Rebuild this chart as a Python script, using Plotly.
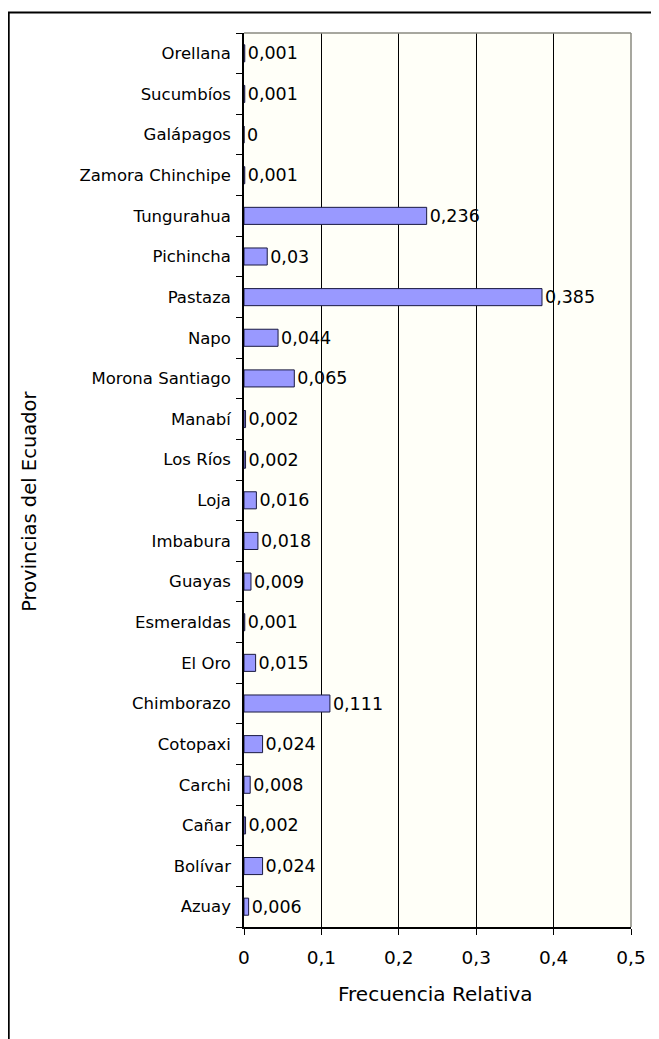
import plotly.graph_objects as go

# categories listed bottom to top, as drawn
provincias = [
    "Azuay", "Bolívar", "Cañar", "Carchi", "Cotopaxi", "Chimborazo", "El Oro",
    "Esmeraldas", "Guayas", "Imbabura", "Loja", "Los Ríos", "Manabí",
    "Morona Santiago", "Napo", "Pastaza", "Pichincha", "Tungurahua",
    "Zamora Chinchipe", "Galápagos", "Sucumbíos", "Orellana",
]
frecuencia = [
    0.006, 0.024, 0.002, 0.008, 0.024, 0.111, 0.015,
    0.001, 0.009, 0.018, 0.016, 0.002, 0.002,
    0.065, 0.044, 0.385, 0.03, 0.236,
    0.001, 0, 0.001, 0.001,
]
x_ticks = [0, 0.1, 0.2, 0.3, 0.4, 0.5]
x_ticktext = ["0", "0,1", "0,2", "0,3", "0,4", "0,5"]

labels = [("%g" % v).replace(".", ",") for v in frecuencia]

FONT = "DejaVu Sans, Verdana, sans-serif"

fig = go.Figure()
fig.add_trace(
    go.Bar(
        x=frecuencia,
        y=provincias,
        orientation="h",
        marker=dict(color="#9999ff", line=dict(color="#1a1a40", width=1)),
        text=labels,
        textposition="outside",
        constraintext="none",
        cliponaxis=False,
        textfont=dict(family=FONT, size=17.5, color="black"),
        hoverinfo="skip",
    )
)

# page body adds an 8px offset, so the figure is 8px smaller than the window
fig.update_layout(
    width=651,
    height=1031,
    margin=dict(l=236, r=28, t=25, b=112),
    paper_bgcolor="white",
    plot_bgcolor="#fffff8",
    bargap=0.58,
    showlegend=False,
    font=dict(family=FONT, size=16, color="black"),
)

fig.update_xaxes(
    range=[0, 0.5],
    tickvals=x_ticks,
    ticktext=x_ticktext,
    showgrid=True,
    gridcolor="black",
    gridwidth=1,
    zeroline=False,
    showline=True,
    linecolor="black",
    linewidth=1.5,
    ticks="outside",
    ticklen=6,
    tickcolor="black",
    ticklabelstandoff=7,
    tickfont=dict(family=FONT, size=18.5),
)
fig.update_yaxes(
    categoryorder="array",
    categoryarray=provincias,
    tickson="boundaries",
    showgrid=False,
    showline=True,
    linecolor="black",
    linewidth=1.5,
    ticks="outside",
    ticklen=6,
    tickcolor="black",
    ticklabelstandoff=8,
    tickfont=dict(family=FONT, size=16.5),
)

# grey top/right plot border
fig.add_shape(type="line", xref="paper", yref="paper", x0=0, x1=1, y0=1, y1=1,
              line=dict(color="#8a8a80", width=1.5))
fig.add_shape(type="line", xref="paper", yref="paper", x0=1, x1=1, y0=0, y1=1,
              line=dict(color="#8a8a80", width=1.5))
# outer chart frame (extends past the right and bottom edges)
fig.add_shape(type="rect", xref="paper", yref="paper",
              x0=-0.608, x1=1.12, y0=-0.15, y1=1.023,
              line=dict(color="black", width=2))

fig.add_annotation(text="Provincias del Ecuador", xref="paper", yref="paper",
                   x=-0.556, y=0.4765, textangle=-90, showarrow=False,
                   xanchor="center", yanchor="middle",
                   font=dict(family=FONT, size=19.5))
fig.add_annotation(text="Frecuencia Relativa", xref="paper", yref="paper",
                   x=0.495, y=-0.0755, showarrow=False,
                   xanchor="center", yanchor="middle",
                   font=dict(family=FONT, size=20))

fig.write_html("out.html")
